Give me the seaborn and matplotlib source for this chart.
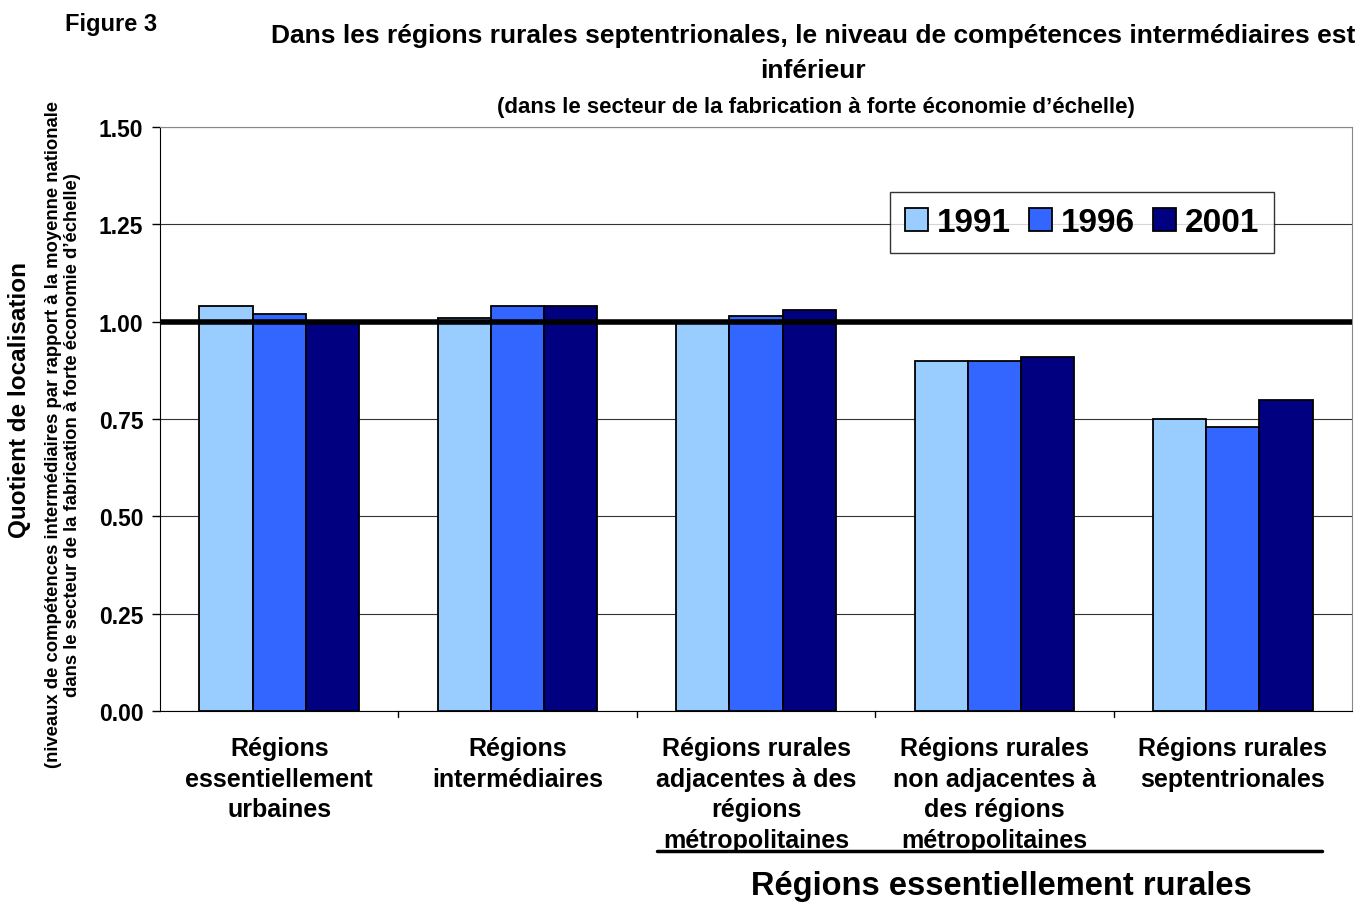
import matplotlib
matplotlib.use("Agg")
import matplotlib.pyplot as plt
import seaborn as sns
import pandas as pd

categories = ["Régions\nessentiellement\nurbaines",
              "Régions\nintermédiaires",
              "Régions rurales\nadjacentes à des\nrégions\nmétropolitaines",
              "Régions rurales\nnon adjacentes à\ndes régions\nmétropolitaines",
              "Régions rurales\nseptentrionales"]
years = ["1991", "1996", "2001"]
v1991 = [1.04, 1.01, 1.00, 0.90, 0.75]
v1996 = [1.02, 1.04, 1.015, 0.90, 0.73]
v2001 = [1.00, 1.04, 1.03, 0.91, 0.80]
colors = ["#99ccff", "#3366ff", "#000080"]

rows = []
for y, vals in zip(years, [v1991, v1996, v2001]):
    for c, v in zip(categories, vals):
        rows.append({"cat": c, "year": y, "val": v})
df = pd.DataFrame(rows)

sns.set_style("white")
plt.rcParams["font.family"] = ["Liberation Sans", "DejaVu Sans"]
plt.rcParams["font.weight"] = "bold"
plt.rcParams["text.color"] = "black"
plt.rcParams["xtick.color"] = "black"
plt.rcParams["ytick.color"] = "black"

fig = plt.figure(figsize=(13.6, 9.03), dpi=100)
ax = fig.add_axes([160/1360, 1 - 712/903, 1192/1360, 584/903])

sns.barplot(data=df, x="cat", y="val", hue="year", palette=colors,
            width=0.67, edgecolor="black", linewidth=1.3, saturation=1,
            ax=ax, zorder=3)

ax.set_ylim(0, 1.5)
ax.set_xlim(-0.5, 4.5)
ax.set_yticks([0, 0.25, 0.5, 0.75, 1.0, 1.25, 1.5])
ax.set_yticklabels(["0.00", "0.25", "0.50", "0.75", "1.00", "1.25", "1.50"],
                   fontsize=16.5, fontweight="bold")
ax.yaxis.grid(True, color="#333333", linewidth=0.8, zorder=0)
ax.axhline(1.0, color="black", linewidth=4, zorder=5)

ax.set_xticks(range(5))
ax.set_xticklabels(categories, fontsize=18, fontweight="bold", linespacing=1.35)
ax.tick_params(axis="x", length=0, pad=18)
for xb in [0.5, 1.5, 2.5, 3.5]:
    ax.plot([xb, xb], [0, -0.015], color="black", lw=1, clip_on=False)
ax.tick_params(axis="y", direction="out", length=6, width=1, color="black",
               left=True, pad=6)
ax.set_xlabel("")
ax.set_ylabel("")

for s in ["top", "right"]:
    ax.spines[s].set_color("#888888")
ax.spines["left"].set_color("black")
ax.spines["bottom"].set_color("black")

leg = ax.legend(loc="upper left", bbox_to_anchor=(730/1192, 1 - 65/584),
                borderaxespad=0, ncol=3, frameon=True, fancybox=False,
                edgecolor="black", prop={"size": 24, "weight": "bold"},
                handlelength=0.7, handleheight=0.7, handletextpad=0.25,
                columnspacing=0.55, borderpad=0.45)
leg.get_frame().set_linewidth(1)

fig.text(65/1360, 1 - 24/903, "Figure 3", fontsize=17, fontweight="bold",
         va="center", ha="left")
fig.text(813/1360, 1 - 36/903,
         "Dans les régions rurales septentrionales, le niveau de compétences intermédiaires est",
         fontsize=19, fontweight="bold", ha="center", va="center")
fig.text(813/1360, 1 - 71/903, "inférieur", fontsize=19, fontweight="bold",
         ha="center", va="center")
fig.text(816/1360, 1 - 107/903,
         "(dans le secteur de la fabrication à forte économie d’échelle)",
         fontsize=16, fontweight="bold", ha="center", va="center")

fig.text(20/1360, 1 - 400/903, "Quotient de localisation", fontsize=17.5,
         fontweight="bold", rotation=90, ha="center", va="center")
fig.text(63/1360, 1 - 435/903,
         "(niveaux de compétences intermédiaires par rapport à la moyenne nationale\n"
         "dans le secteur de la fabrication à forte économie d’échelle)",
         fontsize=13.3, fontweight="bold", rotation=90, ha="center", va="center",
         linespacing=1.2)

fig.add_artist(plt.Line2D([657/1360, 1322/1360], [1 - 852/903, 1 - 852/903],
                          color="black", lw=2.5))
fig.text(1001/1360, 1 - 887/903, "Régions essentiellement rurales", fontsize=23.5,
         fontweight="bold", ha="center", va="center")
fig.text(0, 1 - 909/903,
         "Source : Statistique Canada, recensements de la population de 1991, 1996 et 2001",
         fontsize=11, ha="left", va="center")

fig.savefig("out.png", dpi=100, facecolor="white")
